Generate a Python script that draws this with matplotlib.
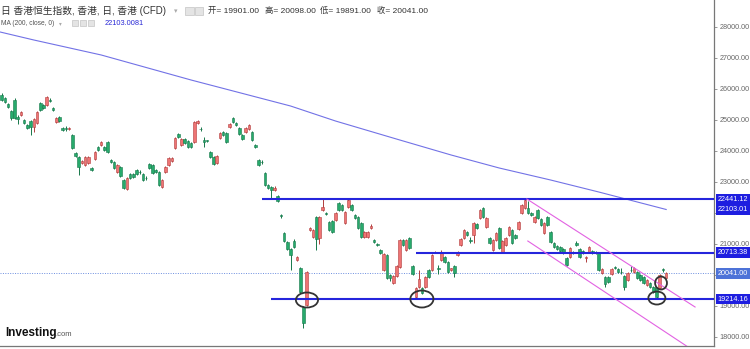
import matplotlib
matplotlib.use('Agg')
import numpy as np
import matplotlib.pyplot as plt
import matplotlib.transforms as mtransforms
from matplotlib.patches import Ellipse, Rectangle

plt.rcParams['font.family'] = ['Liberation Sans', 'Noto Sans CJK SC', 'DejaVu Sans']

# daily OHLC (oldest first)
opens = [
    25796, 25700, 25506, 25280, 25635, 25087, 25151, 24990, 24829, 24958,
    24764, 24893, 25540, 25474, 25474, 25635, 25377, 24925, 25087, 24732,
    24720, 24690, 24506, 23925, 23796, 23603, 23538, 23603, 23441, 23732,
    24119, 24184, 24119, 24280, 23699, 23635, 23312, 23474, 23054, 22764,
    23248, 23248, 23377, 23320, 23248, 23130, 23570, 23538, 23377, 23312,
    22828, 23312, 23538, 23667, 24087, 24538, 24184, 24377, 24313, 24248,
    24280, 24893, 24710, 24345, 24330, 23958, 23796, 23603, 24409, 24603,
    24570, 24764, 25054, 24893, 24732, 24506, 24603, 24700, 24603, 24184,
    23699, 23650, 23280, 22893, 22828, 22731, 22538, 21910, 21345, 21054,
    20828, 21086, 20473, 20215, 18957, 19022, 21441, 21215, 21861, 21183,
    22087, 21990, 21699, 21730, 21764, 22310, 22248, 21667, 22180, 22248,
    21925, 21861, 21667, 21215, 21215, 21506, 21119, 20990, 20796, 20151,
    20635, 19989, 19731, 19957, 20248, 21119, 20796, 21183, 20280, 19280,
    19602, 19570, 19602, 20151, 20151, 20710, 20200, 20473, 20570, 20409,
    20151, 20280, 20635, 20957, 21183, 21377, 21130, 21280, 21635, 21828,
    22151, 21538, 21183, 20796, 21119, 21506, 20731, 20957, 21280, 21441,
    21280, 21473, 21990, 22151, 22151, 21990, 21699, 22087, 21800, 21345,
    21861, 21377, 21022, 20925, 20893, 20828, 20538, 20570, 20731, 21022,
    20828, 20764, 20538, 20731, 20764, 20731, 20699, 20054, 19925, 19925,
    20022, 20248, 20183, 20100, 19957, 19828, 20160, 20086, 20086, 19989,
    19925, 19667, 19731, 19602, 19570, 19570, 20170, 19901,
]
highs = [
    25860, 25740, 25540, 25310, 25700, 25151, 25280, 25022, 24860, 24990,
    25054, 25280, 25570, 25506, 25760, 25700, 25410, 25087, 25120, 24764,
    24800, 24780, 24540, 23960, 23830, 23700, 23830, 23830, 23474, 23990,
    24150, 24310, 24150, 24310, 23730, 23670, 23570, 23506, 23090, 23150,
    23280, 23280, 23410, 23380, 23280, 23180, 23600, 23570, 23410, 23340,
    23090, 23506, 23796, 23800, 24440, 24570, 24410, 24410, 24345, 24280,
    24958, 24990, 24760, 24440, 24360, 23990, 23830, 23860, 24600, 24640,
    24600, 24890, 25087, 24925, 24764, 24540, 24764, 24861, 24640, 24216,
    23730, 23700, 23312, 22925, 22860, 22860, 22570, 21960, 21380, 21090,
    20860, 21150, 20600, 20250, 19000, 20120, 21540, 21480, 21893, 21893,
    22441, 22020, 21730, 21760, 22020, 22345, 22280, 22060, 22441, 22280,
    21960, 21893, 21700, 21410, 21410, 21640, 21150, 21020, 20830, 20700,
    20667, 20020, 19990, 20312, 21150, 21150, 21150, 21215, 20312, 19600,
    20151, 19600, 19957, 20183, 20667, 20760, 20310, 20796, 20600, 20440,
    20230, 20312, 20760, 21183, 21473, 21410, 21200, 21700, 21667, 22120,
    22183, 21860, 21215, 21150, 21377, 21540, 21119, 21215, 21570, 21473,
    21312, 21730, 22280, 22441, 22380, 22020, 21893, 22119, 21830, 21700,
    21893, 21410, 21054, 20957, 20925, 20861, 20570, 20893, 20760, 21086,
    20861, 20796, 20600, 20925, 20796, 20764, 20731, 20215, 19957, 19957,
    20215, 20280, 20215, 20200, 19990, 20086, 20280, 20248, 20119, 20022,
    19957, 19860, 19764, 19635, 19600, 20022, 20200, 20098,
]
lows = [
    25600, 25540, 25380, 24990, 25020, 24861, 25120, 24860, 24700, 24506,
    24600, 24860, 25280, 25340, 25440, 25570, 25280, 24893, 24925, 24640,
    24640, 24660, 24050, 23800, 23216, 23570, 23500, 23570, 23340, 23700,
    23990, 24150, 23990, 23925, 23600, 23410, 23280, 23150, 22760, 22730,
    23090, 23120, 23216, 23250, 23020, 23060, 23410, 23250, 23280, 22860,
    22800, 23280, 23506, 23640, 24050, 24410, 24150, 24216, 24087, 24090,
    24250, 24860, 24640, 24120, 24270, 23760, 23540, 23570, 24380, 24470,
    24250, 24730, 24893, 24800, 24506, 24340, 24570, 24670, 24310, 24087,
    23506, 23570, 22860, 22764, 22441, 22700, 22345, 21830, 21050, 20800,
    20151, 20860, 20440, 19400, 18280, 18990, 21410, 21180, 20796, 20990,
    22050, 21920, 21410, 21340, 21730, 22050, 22050, 21630, 22150, 22050,
    21800, 21470, 21180, 21180, 21180, 21470, 21020, 20920, 20667, 20120,
    19860, 19800, 19700, 19925, 20215, 20925, 20764, 20830, 19990, 19214,
    19570, 19380, 19570, 19893, 20120, 20690, 20020, 20440, 20380, 20054,
    20120, 19925, 20600, 20925, 21150, 21248, 21030, 21020, 21473, 21800,
    21830, 21506, 20990, 20764, 21086, 20830, 20700, 20925, 21250, 20990,
    21150, 21441, 21960, 22120, 21960, 21890, 21667, 21800, 21570, 21312,
    21570, 21020, 20860, 20796, 20731, 20667, 20280, 20538, 20667, 20925,
    20538, 20667, 20409, 20699, 20667, 20667, 20120, 20022, 19602, 19731,
    19990, 20183, 20054, 20022, 19505, 19796, 20100, 20054, 19860, 19796,
    19699, 19635, 19570, 19409, 19214, 19540, 20100, 19891,
]
closes = [
    25635, 25570, 25409, 25054, 25054, 25022, 25248, 24893, 24732, 24764,
    25022, 25248, 25312, 25377, 25730, 25610, 25312, 25054, 24958, 24667,
    24700, 24732, 24087, 23828, 23474, 23667, 23796, 23796, 23377, 23958,
    24022, 24280, 24022, 23958, 23635, 23441, 23538, 23183, 22796, 23119,
    23119, 23151, 23248, 23300, 23054, 23110, 23441, 23280, 23312, 22893,
    23054, 23474, 23764, 23764, 24409, 24441, 24377, 24248, 24119, 24119,
    24925, 24958, 24690, 24280, 24300, 23796, 23570, 23828, 24570, 24506,
    24280, 24861, 24925, 24829, 24538, 24377, 24732, 24829, 24345, 24119,
    23538, 23620, 22893, 22796, 22731, 22796, 22377, 21880, 21086, 20828,
    20635, 20893, 20570, 19441, 18441, 20086, 21506, 21441, 21151, 21861,
    22183, 21957, 21441, 21377, 21990, 22087, 22087, 22022, 22409, 22087,
    21828, 21506, 21215, 21377, 21377, 21570, 21054, 20957, 20699, 20667,
    19893, 19893, 19957, 20280, 21119, 20957, 21119, 20861, 20022, 19570,
    19860, 19409, 19925, 19925, 20635, 20740, 20170, 20699, 20409, 20086,
    20200, 20054, 20731, 21151, 21441, 21280, 21100, 21667, 21506, 22087,
    21861, 21828, 21022, 21119, 21345, 20861, 21086, 21183, 21538, 21022,
    21183, 21699, 22248, 22409, 21990, 21925, 21861, 21828, 21603, 21667,
    21603, 21054, 20893, 20828, 20764, 20699, 20312, 20861, 20699, 20957,
    20570, 20699, 20570, 20893, 20699, 20699, 20151, 20183, 19699, 19764,
    20183, 20215, 20086, 20080, 19602, 20054, 20140, 20215, 19893, 19828,
    19731, 19828, 19602, 19441, 19280, 19989, 20150, 20041,
]

# MA(200) read at a few bars
ma_idx = [-0.5, 10, 31, 59, 90, 104, 124, 140, 155, 171, 186, 207]
ma_val = [27829, 27571, 27087, 26280, 25441, 24957, 24345, 23861, 23441, 23054, 22667, 22103]

levels = [22441.12, 20713.38, 19214.16]
level_from = [81, 129, 84]
last_close = 20041.00
ma_last = 22103.01
yticks = [18000, 19000, 20000, 21000, 22000, 23000, 24000, 25000, 26000, 27000, 28000]
# 20000 and 22000 sit under the price tags, so no visible label
hidden_ticks = [20000, 22000]

o = np.array(opens)
h = np.array(highs)
l = np.array(lows)
c = np.array(closes)
x = np.arange(len(o))

fig = plt.figure(figsize=(7.5, 3.49), dpi=100)
ax = fig.add_axes([0, 3 / 349, 714 / 750, 346 / 349])

up = c > o
body_col = np.where(up, '#ee7474', '#27aa6c')
edge_col = np.where(up, '#b03c3c', '#17774a')
ax.vlines(x, l, h, colors=edge_col, lw=0.7, zorder=3)
ax.bar(x, np.maximum(np.abs(c - o), 20), bottom=np.minimum(o, c), width=0.8,
       color=body_col, edgecolor=edge_col, linewidth=0.4, zorder=4)

ax.plot(ma_idx, ma_val, color='#7272e6', lw=0.8, zorder=2)

xmax = 221.9
ax.hlines(levels, level_from, xmax, color='#2525dc', lw=1.5, zorder=5)
ax.axhline(last_close, color='#6b8ddf', ls=(0, (1, 1.5)), lw=0.7, zorder=1)

# trend channel
ax.plot([163.6, 216.0], [22441, 18957], color='#e262e2', lw=0.8, zorder=5)
ax.plot([163.9, 213.8], [21086, 17667], color='#e262e2', lw=0.8, zorder=5)

for cx, cy, w, hh in [(95.1, 19183, 6.9, 484), (130.9, 19215, 7.2, 548),
                      (204.1, 19247, 5.3, 419), (205.4, 19731, 3.7, 419)]:
    ax.add_patch(Ellipse((cx, cy), w, hh, fill=False, ec='#333333', lw=1.3, zorder=6))

ax.set_xlim(-0.53, xmax)
ax.set_ylim(17699, 28861)

for s in ['top', 'left']:
    ax.spines[s].set_visible(False)
ax.spines['right'].set_color('#777777')
ax.spines['bottom'].set_color('#777777')
ax.spines['right'].set_linewidth(0.9)
ax.spines['bottom'].set_linewidth(0.9)

ax.set_xticks([])
ax.yaxis.tick_right()
ax.set_yticks(yticks)
ax.set_yticklabels(['' if v in hidden_ticks else f'{v:.2f}' for v in yticks])
ax.tick_params(axis='y', direction='out', length=2.5, width=0.6, color='#888888',
               labelsize=5.2, labelcolor='#666666', pad=1.5)

trans = mtransforms.blended_transform_factory(ax.transAxes, ax.transData)
for v, fc in [(levels[0], '#1e1ee0'), (ma_last, '#1e1ee0'), (levels[1], '#1e1ee0'),
              (last_close, '#4d73d8'), (levels[2], '#1e1ee0')]:
    ax.text(1.005, v, f'{v:.2f}', transform=trans, ha='left', va='center',
            fontsize=5.2, color='white', clip_on=False, zorder=7,
            bbox=dict(boxstyle='square,pad=0.25', fc=fc, ec='none'))

# header
def ftxt(px, py, s, **kw):
    fig.text(px / 750, 1 - py / 349, s, va='center', ha='left', **kw)

def icon(px, py, w, hh):
    fig.add_artist(Rectangle((px / 750, 1 - (py + hh) / 349), w / 750, hh / 349,
                             transform=fig.transFigure, fc='#e4e4e4', ec='#c4c4c4', lw=0.5))

ftxt(1, 11, '日 香港恒生指数, 香港, 日, 香港 (CFD)', fontsize=7, color='#333333')
ftxt(174, 11, '▾', fontsize=5, color='#aaaaaa', family=['DejaVu Sans'])
icon(185, 7, 9, 8)
icon(195, 7, 8, 8)
ftxt(208, 11, '开= 19901.00', fontsize=6, color='#333333')
ftxt(265, 11, '高= 20098.00', fontsize=6, color='#333333')
ftxt(320, 11, '低= 19891.00', fontsize=6, color='#333333')
ftxt(377, 11, '收= 20041.00', fontsize=6, color='#333333')

ftxt(1, 23.5, 'MA (200, close, 0)', fontsize=4.8, color='#555555')
ftxt(59, 23.5, '▾', fontsize=4, color='#aaaaaa', family=['DejaVu Sans'])
icon(72, 20, 6, 6)
icon(80, 20, 6, 6)
icon(88, 20, 6, 6)
ftxt(105, 23.5, '22103.0081', fontsize=5.3, color='#2a2ad6')

# logo
ftxt(5, 333, 'Investing', fontsize=8.5, fontweight='bold', color='#111111')
ftxt(55, 334, '.com', fontsize=5.5, color='#555555')

fig.savefig('out.png', dpi=100, facecolor='white')
